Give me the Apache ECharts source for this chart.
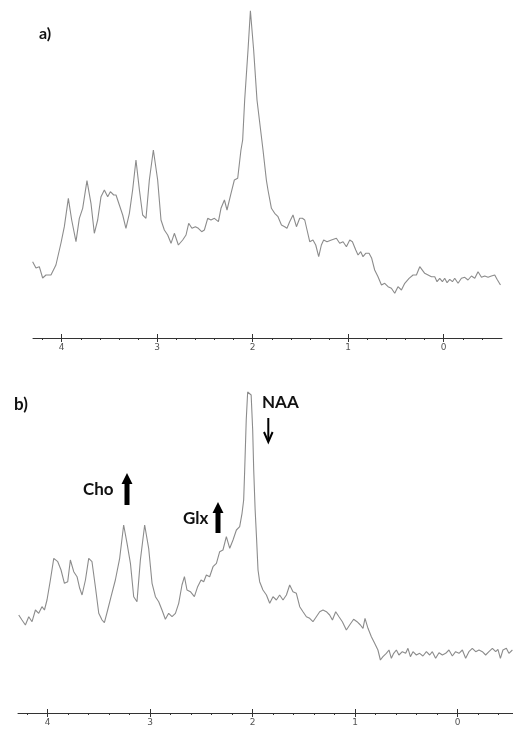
<!DOCTYPE html>
<html>
<head>
<meta charset="utf-8">
<script src="https://cdn.jsdelivr.net/npm/echarts@6/dist/echarts.min.js"></script>
<style>
  html, body { margin: 0; padding: 0; background: #fff; }
  #chart { width: 513px; height: 729px; }
</style>
</head>
<body>
<div id="chart"></div>
<script>
// chemical shift (ppm) and signal height
var ppmA = [4.304,4.269,4.234,4.199,4.164,4.112,4.060,4.007,3.972,3.930,
  3.895,3.850,3.815,3.780,3.735,3.693,3.658,3.623,3.588,3.553,
  3.518,3.490,3.455,3.431,3.396,3.361,3.327,3.291,3.257,3.222,
  3.186,3.152,3.117,3.082,3.040,2.995,2.960,2.925,2.890,2.855,
  2.820,2.778,2.733,2.698,2.670,2.636,2.600,2.569,2.534,2.506,
  2.471,2.437,2.401,2.359,2.332,2.296,2.269,2.227,2.192,2.157,
  2.123,2.105,2.084,2.049,2.024,2.010,1.990,1.955,1.892,1.857,
  1.840,1.804,1.770,1.735,1.699,1.665,1.641,1.613,1.578,1.542,
  1.508,1.480,1.455,1.431,1.403,1.369,1.340,1.309,1.281,1.257,
  1.222,1.176,1.124,1.089,1.054,1.019,0.984,0.956,0.921,0.897,
  0.869,0.845,0.817,0.782,0.754,0.723,0.688,0.652,0.618,0.583,
  0.548,0.513,0.479,0.443,0.408,0.363,0.321,0.286,0.251,0.234,
  0.199,0.164,0.129,0.094,0.070,0.042,0.014,-0.010,-0.035,-0.063,
  -0.091,-0.115,-0.150,-0.185,-0.220,-0.254,-0.290,-0.325,-0.359,-0.395,
  -0.429,-0.464,-0.499,-0.534,-0.558,-0.594];
var intA = [76.3,70,71.3,60,63,63,73,95,111.3,139.7,
  118,96.3,119.7,129.7,157.3,134.7,104.7,118,141.3,148,
  141.3,146.3,143,143,133,123,109.7,124.7,148,178,
  148,123,119.7,158,188,158,118,108,103,94.7,
  104.7,93,98,103,114.7,109.7,111.3,109.7,106.3,108,
  119.7,118,119.7,116.3,129.7,138,128,144.7,158,159.7,
  188,198,238,288,327.3,328,288,238,188,158,
  148,129.7,124.7,121.3,113,111.3,109.7,116.3,123,111.3,
  119.7,119.7,118,108,96.3,98,93,81.3,93,98,
  96.3,98,99.7,94.7,96.3,91.3,98,96.3,88,83,
  86.3,81.3,84.7,84.7,79.7,68,61.3,53,54.7,51.3,
  49.7,44.7,51.3,48,54.7,59.7,63,63,71.3,73,
  64.7,63,61.3,61.3,56.3,59.7,56.3,59.7,55.3,58.7,
  56.3,59.7,54.7,59.7,60.7,58,62,59.7,66.3,60.7,
  62,60.7,62,63,58.7,53];

var ppmB = [4.283,4.251,4.218,4.185,4.153,4.120,4.088,4.056,4.032,4.007,
  3.974,3.941,3.902,3.870,3.837,3.805,3.779,3.746,3.714,3.688,
  3.665,3.632,3.600,3.568,3.535,3.502,3.470,3.447,3.415,3.382,
  3.340,3.298,3.259,3.226,3.193,3.161,3.129,3.096,3.054,3.015,
  2.982,2.949,2.917,2.885,2.852,2.820,2.787,2.754,2.722,2.690,
  2.666,2.641,2.608,2.569,2.537,2.504,2.478,2.452,2.420,2.387,
  2.354,2.322,2.290,2.257,2.224,2.192,2.159,2.127,2.104,2.088,
  2.078,2.063,2.049,2.034,2.015,2.000,1.990,1.976,1.963,1.948,
  1.932,1.900,1.866,1.834,1.802,1.769,1.737,1.704,1.671,1.639,
  1.607,1.574,1.541,1.509,1.476,1.444,1.412,1.379,1.346,1.314,
  1.281,1.249,1.222,1.190,1.158,1.125,1.086,1.054,1.015,0.982,
  0.949,0.924,0.904,0.875,0.842,0.810,0.778,0.754,0.729,0.696,
  0.670,0.647,0.624,0.598,0.573,0.540,0.507,0.485,0.461,0.436,
  0.403,0.371,0.339,0.305,0.273,0.247,0.215,0.182,0.149,0.117,
  0.085,0.052,0.020,-0.013,-0.046,-0.078,-0.110,-0.143,-0.176,-0.208,
  -0.241,-0.273,-0.305,-0.339,-0.371,-0.393,-0.417,-0.442,-0.475,-0.500,
  -0.534];
var intB = [98,93,88,96.3,91.3,103,99.7,106.3,103,113,
  133,154.7,151.3,143,129.7,131.3,153,141.3,136.3,124.7,
  118,133,154.7,151.3,126.3,99.7,93,90.3,103,116.3,
  133,154.7,188,169.7,149.7,116.3,111.3,153,188,164.7,
  129.7,116.3,111.3,103,93.7,99.7,96.3,99.7,109.7,128,
  136.3,123,121.3,116.3,126.3,133,131.3,138,136.3,146.3,
  149.7,161.3,163,176.3,164.7,173,183,186.3,199.7,213,
  243,293,321,323,318,283,243,203,176.3,143,
  131.3,123,118,109.7,116.3,113,118,113,118,128,
  121.3,119.7,106.3,101.3,96.3,94.7,91.3,96.3,101.3,103,
  101.3,98,93,101.3,96.3,91.3,83,88,93.7,91.3,
  88,84.7,94.7,84.7,76.3,69.7,63,53,56.3,59.7,
  63,54.7,59.7,63,58,61.3,59.7,64.7,56.3,61.3,
  58,59.7,57,61.3,58,61.3,54.7,60.3,58,59.7,
  63,57,61.3,59.7,63,54.7,61.3,64.7,61.3,63,
  61.3,58,61.3,64.7,61.3,63.7,54.7,63,64.7,59.7,
  63];

var majorTicks = [4, 3, 2, 1, 0];
var minorTicks = [4.2, 3.8, 3.6, 3.4, 3.2, 2.8, 2.6, 2.4, 2.2, 1.8, 1.6, 1.4, 1.2,
  0.8, 0.6, 0.4, 0.2, -0.2, -0.4];

var panelLabels = ['a)', 'b)'];
var peakNames = ['Cho', 'Glx', 'NAA'];

function pairs(xs, ys) {
  var out = [];
  for (var i = 0; i < xs.length; i++) out.push([xs[i], ys[i]]);
  return out;
}

// three x axes per panel: ticks below + labels, ticks above, minor ticks
function xAxes(grid, min, max) {
  var base = {
    type: 'value', gridIndex: grid, min: min, max: max, inverse: true,
    position: 'bottom', splitLine: { show: false }
  };
  return [
    Object.assign({}, base, {
      axisLine: { show: true, onZero: false, lineStyle: { color: '#333', width: 1 } },
      axisTick: { show: true, length: 4, customValues: majorTicks, lineStyle: { color: '#333' } },
      axisLabel: { show: true, customValues: majorTicks, margin: 5, fontSize: 9, color: '#555',
        fontFamily: 'DejaVu Sans' }
    }),
    Object.assign({}, base, {
      axisLine: { show: false, onZero: false },
      axisTick: { show: true, inside: true, length: 4, customValues: majorTicks, lineStyle: { color: '#333' } },
      axisLabel: { show: false }
    }),
    Object.assign({}, base, {
      axisLine: { show: false, onZero: false },
      axisTick: { show: true, length: 2, customValues: minorTicks, lineStyle: { color: '#333' } },
      axisLabel: { show: false }
    })
  ];
}

var chart = echarts.init(document.getElementById('chart'));

var bold = 'bold 17px Lato, "Open Sans", sans-serif';

var option = {
  backgroundColor: '#fff',
  animation: false,
  grid: [
    { left: 33, top: 0, width: 469, height: 338 },
    { left: 18, top: 375, width: 495, height: 338 }
  ],
  xAxis: xAxes(0, -0.61, 4.30).concat(xAxes(1, -0.54, 4.29)),
  yAxis: [
    { type: 'value', gridIndex: 0, min: 0, max: 338, show: false },
    { type: 'value', gridIndex: 1, min: 0, max: 338, show: false }
  ],
  series: [
    {
      type: 'line', xAxisIndex: 0, yAxisIndex: 0, data: pairs(ppmA, intA),
      showSymbol: false, lineStyle: { color: '#8c8c8c', width: 1.1 }
    },
    {
      type: 'line', xAxisIndex: 3, yAxisIndex: 1, data: pairs(ppmB, intB),
      showSymbol: false, lineStyle: { color: '#8c8c8c', width: 1.1 }
    }
  ],
  graphic: [
    { type: 'text', style: { text: panelLabels[0], x: 39, y: 34, font: 'bold 16px Lato, sans-serif',
      fill: '#111', textVerticalAlign: 'middle' } },
    { type: 'text', style: { text: panelLabels[1], x: 14, y: 405, font: 'bold 17px Lato, sans-serif',
      fill: '#111', textVerticalAlign: 'middle' } },
    { type: 'text', style: { text: peakNames[0], x: 83, y: 490, font: bold,
      fill: '#111', textVerticalAlign: 'middle' } },
    { type: 'text', style: { text: peakNames[1], x: 183, y: 519, font: bold,
      fill: '#111', textVerticalAlign: 'middle' } },
    { type: 'text', style: { text: peakNames[2], x: 262, y: 403, font: bold,
      fill: '#111', textVerticalAlign: 'middle' } },
    // thick up arrows
    { type: 'polygon', shape: { points: [[127, 473], [132.5, 484], [129.5, 484], [129.5, 505],
      [124.5, 505], [124.5, 484], [121.5, 484]] }, style: { fill: '#000' } },
    { type: 'polygon', shape: { points: [[218, 502], [223.5, 513], [220.5, 513], [220.5, 533],
      [215.5, 533], [215.5, 513], [212.5, 513]] }, style: { fill: '#000' } },
    // thin down arrow
    { type: 'polyline', shape: { points: [[268.3, 418], [268.3, 441]] },
      style: { stroke: '#000', lineWidth: 2 } },
    { type: 'polyline', shape: { points: [[264, 432], [268.3, 442], [272.6, 432]] },
      style: { stroke: '#000', lineWidth: 2, fill: null } }
  ]
};

chart.setOption(option);
</script>
</body>
</html>
